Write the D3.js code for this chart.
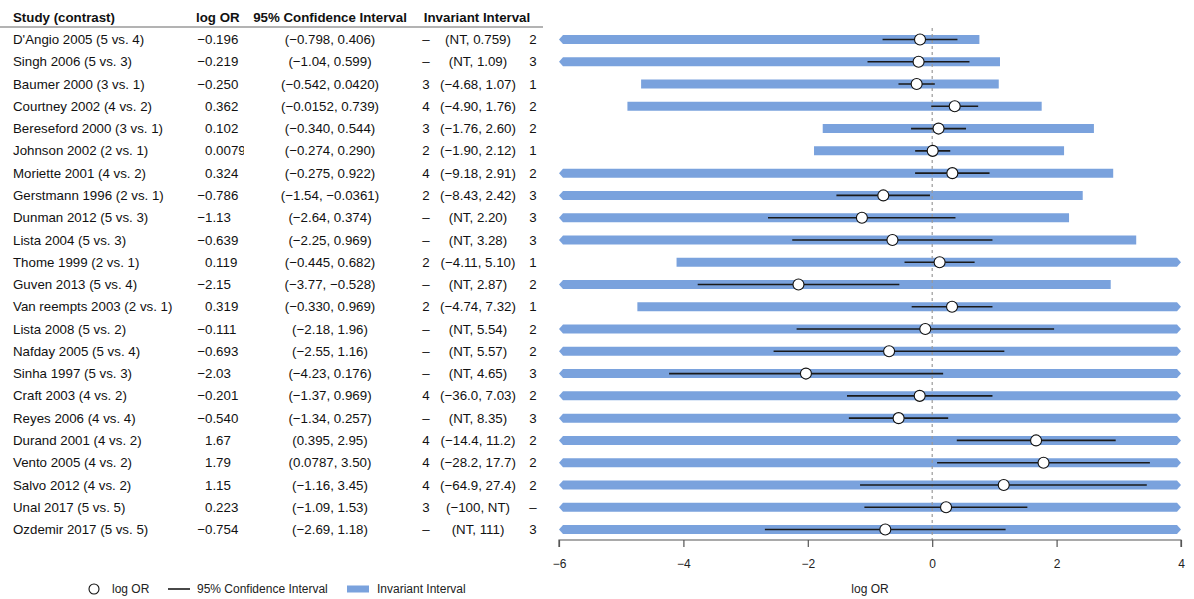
<!DOCTYPE html>
<html>
<head>
<meta charset="utf-8">
<script src="https://cdn.jsdelivr.net/npm/d3@7"></script>
<style>
  html, body { margin: 0; padding: 0; background: #fff; }
  svg { display: block; font-family: "Liberation Sans", Arial, Helvetica, sans-serif; }
</style>
</head>
<body>
<svg id="chart" width="1194" height="599"></svg>
<script>
// ---------------- data ----------------
const studies = [
  "D'Angio 2005 (5 vs. 4)", "Singh 2006 (5 vs. 3)", "Baumer 2000 (3 vs. 1)",
  "Courtney 2002 (4 vs. 2)", "Bereseford 2000 (3 vs. 1)", "Johnson 2002 (2 vs. 1)",
  "Moriette 2001 (4 vs. 2)", "Gerstmann 1996 (2 vs. 1)", "Dunman 2012 (5 vs. 3)",
  "Lista 2004 (5 vs. 3)", "Thome 1999 (2 vs. 1)", "Guven 2013 (5 vs. 4)",
  "Van reempts 2003 (2 vs. 1)", "Lista 2008 (5 vs. 2)", "Nafday 2005 (5 vs. 4)",
  "Sinha 1997 (5 vs. 3)", "Craft 2003 (4 vs. 2)", "Reyes 2006 (4 vs. 4)",
  "Durand 2001 (4 vs. 2)", "Vento 2005 (4 vs. 2)", "Salvo 2012 (4 vs. 2)",
  "Unal 2017 (5 vs. 5)", "Ozdemir 2017 (5 vs. 5)"
];
const logOR = [-0.196, -0.219, -0.250, 0.362, 0.102, 0.00790, 0.324, -0.786, -1.13,
  -0.639, 0.119, -2.15, 0.319, -0.111, -0.693, -2.03, -0.201, -0.540, 1.67, 1.79,
  1.15, 0.223, -0.754];
const ciLow = [-0.798, -1.04, -0.542, -0.0152, -0.340, -0.274, -0.275, -1.54, -2.64,
  -2.25, -0.445, -3.77, -0.330, -2.18, -2.55, -4.23, -1.37, -1.34, 0.395, 0.0787,
  -1.16, -1.09, -2.69];
const ciHigh = [0.406, 0.599, 0.0420, 0.739, 0.544, 0.290, 0.922, -0.0361, 0.374,
  0.969, 0.682, -0.528, 0.969, 1.96, 1.16, 0.176, 0.969, 0.257, 2.95, 3.50, 3.45,
  1.53, 1.18];
// null = NT (not tippable)
const invLow = [null, null, -4.68, -4.90, -1.76, -1.90, -9.18, -8.43, null, null,
  -4.11, null, -4.74, null, null, null, -36.0, null, -14.4, -28.2, -64.9, -100, null];
const invHigh = [0.759, 1.09, 1.07, 1.76, 2.60, 2.12, 2.91, 2.42, 2.20, 3.28, 5.10,
  2.87, 7.32, 5.54, 5.57, 4.65, 7.03, 8.35, 11.2, 17.7, 27.4, null, 111];
// counts next to invariant interval (null = "–")
const leftCount = [null, null, 3, 4, 3, 2, 4, 2, null, null, 2, null, 2, null, null,
  null, 4, null, 4, 4, 4, 3, null];
const rightCount = [2, 3, 1, 2, 2, 1, 2, 3, 3, 3, 1, 2, 1, 2, 2, 3, 2, 3, 2, 2, 2,
  null, 3];
const headers = ["Study (contrast)", "log OR", "95% Confidence Interval", "Invariant Interval"];
const xTicks = [-6, -4, -2, 0, 2, 4];
const legendLabels = ["log OR", "95% Confidence Interval", "Invariant Interval"];

// ---------------- layout ----------------
const svg = d3.select("#chart");
const BLUE = "#7aa2dd";
const fmt = d3.format(".3r");
const dash = "\u2013";
const FS = 13.3;
const LFS = 12;

const x = d3.scaleLinear().domain([-6, 4]).range([559, 1181]);
const y = d3.scalePoint().domain(d3.range(studies.length)).range([39.5, 529.5]);

// header
const hdr = svg.append("g").attr("font-weight", "bold").attr("font-size", FS).attr("fill", "#111");
hdr.append("text").attr("x", 13).attr("y", 22).text(headers[0]);
hdr.append("text").attr("x", 196).attr("y", 22).text(headers[1]);
hdr.append("text").attr("x", 330).attr("y", 22).attr("text-anchor", "middle").text(headers[2]);
hdr.append("text").attr("x", 477).attr("y", 22).attr("text-anchor", "middle").text(headers[3]);
svg.append("line").attr("x1", 0).attr("x2", 543).attr("y1", 27).attr("y2", 27)
  .attr("stroke", "#9a9a9a").attr("stroke-width", 1.5);

// clip for log OR column
svg.append("clipPath").attr("id", "orclip").append("rect")
  .attr("x", 150).attr("y", 28).attr("width", 94).attr("height", 520);

const rows = svg.append("g").attr("font-size", FS).attr("fill", "#111");
const idx = d3.range(studies.length);
rows.selectAll("text.study").data(idx).join("text").attr("class", "study")
  .attr("x", 13).attr("y", i => y(i) + 4.6).text(i => studies[i]);

const minusW = (() => {
  const t = rows.append("text").text("\u2212");
  const w = t.node().getComputedTextLength();
  t.remove();
  return w;
})();
rows.append("g").attr("clip-path", "url(#orclip)")
  .selectAll("text").data(idx).join("text")
  .attr("x", i => logOR[i] < 0 ? 205 - minusW : 205)
  .attr("y", i => y(i) + 4.6).text(i => fmt(logOR[i]));
rows.selectAll("text.ci").data(idx).join("text").attr("class", "ci")
  .attr("x", 330).attr("text-anchor", "middle").attr("y", i => y(i) + 4.6)
  .text(i => `(${fmt(ciLow[i])}, ${fmt(ciHigh[i])})`);
rows.selectAll("text.lc").data(idx).join("text").attr("class", "lc")
  .attr("x", 426).attr("text-anchor", "middle").attr("y", i => y(i) + 4.6)
  .text(i => leftCount[i] == null ? dash : leftCount[i]);
rows.selectAll("text.inv").data(idx).join("text").attr("class", "inv")
  .attr("x", 478).attr("text-anchor", "middle").attr("y", i => y(i) + 4.6)
  .text(i => `(${invLow[i] == null ? "NT" : fmt(invLow[i])}, ${invHigh[i] == null ? "NT" : fmt(invHigh[i])})`);
rows.selectAll("text.rc").data(idx).join("text").attr("class", "rc")
  .attr("x", 533).attr("text-anchor", "middle").attr("y", i => y(i) + 4.6)
  .text(i => rightCount[i] == null ? dash : rightCount[i]);

// invariant interval bars
const [dMin, dMax] = x.domain();
const H = 9, A = 4;
function barPath(i) {
  const lo = invLow[i], hi = invHigh[i];
  const arrowL = lo == null || lo < dMin, arrowR = hi == null || hi > dMax;
  const x0 = arrowL ? x(dMin) : x(lo);
  const x1 = arrowR ? x(dMax) : x(hi);
  const yc = y(i), t = yc - H / 2, b = yc + H / 2;
  const p = d3.path();
  p.moveTo(arrowL ? x0 + A : x0, t);
  p.lineTo(arrowR ? x1 - A : x1, t);
  if (arrowR) p.lineTo(x1, yc);
  p.lineTo(arrowR ? x1 - A : x1, b);
  p.lineTo(arrowL ? x0 + A : x0, b);
  if (arrowL) p.lineTo(x0, yc);
  p.closePath();
  return p.toString();
}
svg.append("g").selectAll("path").data(idx).join("path")
  .attr("d", barPath).attr("fill", BLUE);

// zero line
svg.append("line").attr("x1", x(0)).attr("x2", x(0)).attr("y1", 28).attr("y2", 540)
  .attr("stroke", "#9a9a9a").attr("stroke-width", 1.2).attr("stroke-dasharray", "3,3");

// CI lines
svg.append("g").selectAll("line").data(idx).join("line")
  .attr("x1", i => x(ciLow[i])).attr("x2", i => x(ciHigh[i]))
  .attr("y1", i => y(i)).attr("y2", i => y(i))
  .attr("stroke", "#1a1a1a").attr("stroke-width", 1.6);

// points
svg.append("g").selectAll("circle").data(idx).join("circle")
  .attr("cx", i => x(logOR[i])).attr("cy", i => y(i)).attr("r", 5.5)
  .attr("fill", "#fff").attr("stroke", "#111").attr("stroke-width", 1.1);

// axis
const ax = svg.append("g").attr("transform", "translate(0,540)")
  .call(d3.axisBottom(x).tickValues(xTicks).tickSize(7).tickPadding(12)
    .tickFormat(d => d3.format("")(d)));
ax.select(".domain").attr("stroke", "#555").attr("stroke-width", 1.2)
  .attr("d", `M${x(dMin)},7V0H${x(dMax)}V7`);
ax.selectAll(".tick line").attr("stroke", "#555").attr("stroke-width", 1.2);
ax.selectAll(".tick text").attr("font-size", LFS).attr("font-family", "Liberation Sans, Arial, sans-serif").attr("fill", "#222");
svg.append("text").attr("x", (x(dMin) + x(dMax)) / 2).attr("y", 593).attr("text-anchor", "middle")
  .attr("font-size", LFS).attr("fill", "#222").text("log OR");

// legend
const lg = svg.append("g").attr("font-size", LFS).attr("fill", "#222");
const ly = 589;
lg.append("circle").attr("cx", 94).attr("cy", ly).attr("r", 5).attr("fill", "#fff")
  .attr("stroke", "#111").attr("stroke-width", 1.1);
lg.append("text").attr("x", 112).attr("y", ly + 4.3).text(legendLabels[0]);
lg.append("line").attr("x1", 168).attr("x2", 190).attr("y1", ly).attr("y2", ly)
  .attr("stroke", "#1a1a1a").attr("stroke-width", 1.6);
lg.append("text").attr("x", 197).attr("y", ly + 4.3).text(legendLabels[1]);
lg.append("rect").attr("x", 347).attr("y", ly - 3.5).attr("width", 22).attr("height", 7).attr("fill", BLUE);
lg.append("text").attr("x", 377).attr("y", ly + 4.3).text(legendLabels[2]);
</script>
</body>
</html>
